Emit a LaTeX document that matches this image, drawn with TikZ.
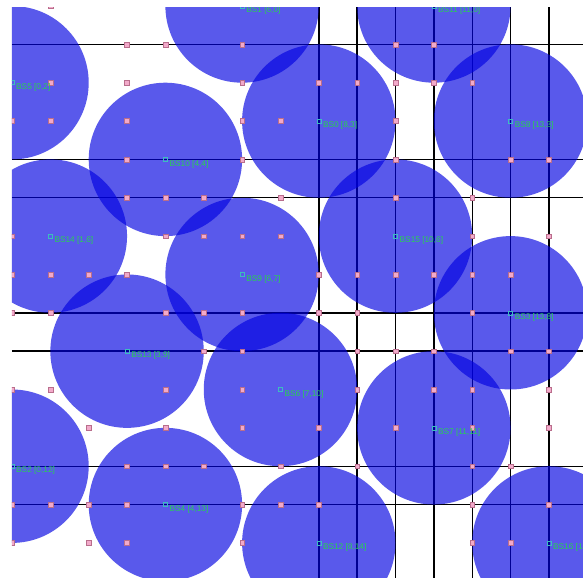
\documentclass[tikz,border=0pt]{standalone}
\usepackage{fontspec}
\setmainfont{Liberation Sans}
\definecolor{bsfill}{RGB}{0,0,225}
\definecolor{dotpink}{RGB}{242,170,202}
\definecolor{dotedge}{RGB}{185,110,140}
\definecolor{lblgreen}{RGB}{40,210,80}
\definecolor{mkteal}{RGB}{60,190,190}
\begin{document}
\begin{tikzpicture}[x=38.35pt,y=-38.35pt]
\tikzset{
  bs/.style={circle, fill=bsfill, fill opacity=0.65, draw=none, minimum size=153.4pt, inner sep=0pt},
  ptdot/.style={rectangle, fill=dotpink, draw=dotedge, line width=0.4pt, minimum size=4.8pt, inner sep=0pt},
  mk/.style={rectangle, draw=mkteal, line width=0.6pt, minimum size=4pt, inner sep=0pt},
  lbl/.style={text=lblgreen, font=\fontsize{8.3}{9}\selectfont, inner sep=0pt, anchor=west},
  road/.style={line width=1.4pt, draw=black}
}
\fill[white] (-0.3129,-0.1565) rectangle (14.889,14.915);
\useasboundingbox (-0.3129,-0.1565) rectangle (14.889,14.915);
\begin{scope}
  \clip (0,0.04) rectangle (14.889,14.915);
  % roads
  \foreach \r in {1,4,5,8,9,12,13} \draw[road] (0,\r) -- (15,\r);
  \foreach \c in {8,...,14} \draw[road] (\c,0) -- (\c,15);
  % base station coverage
  \foreach \n/\c/\r in {0/8/3,1/6/0,2/0/12,3/13/8,4/4/13,5/0/2,6/7/10,7/11/11,8/13/3,9/6/7,10/4/4,11/11/0,12/8/14,13/3/9,14/1/6,15/10/6,16/14/14}
    \node[bs] (bs\n) at (\c,\r) {};
  % test points
  \foreach \c/\r in {1/0,
    3/1,4/1,6/1,10/1,11/1,
    1/2,3/2,6/2,8/2,9/2,10/2,11/2,12/2,
    0/3,1/3,3/3,6/3,7/3,10/3,
    3/4,6/4,10/4,13/4,14/4,
    3/5,4/5,5/5,7/5,10/5,12/5,
    0/6,4/6,5/6,6/6,7/6,12/6,14/6,
    0/7,1/7,2/7,3/7,8/7,9/7,10/7,11/7,12/7,13/7,
    0/8,1/8,4/8,5/8,6/8,8/8,9/8,12/8,
    5/9,6/9,9/9,10/9,11/9,13/9,14/9,
    0/10,1/10,4/10,6/10,9/10,11/10,12/10,14/10,
    2/11,4/11,6/11,8/11,10/11,12/11,14/11,
    3/12,4/12,5/12,7/12,9/12,12/12,13/12,
    0/13,1/13,2/13,3/13,6/13,7/13,8/13,12/13,14/13,
    0/14,2/14,3/14,6/14,12/14,13/14}
    \node[ptdot] (d\c-\r) at (\c,\r) {};
  % labels
  \foreach \n/\c/\r in {0/8/3,1/6/0,2/0/12,3/13/8,4/4/13,5/0/2,6/7/10,7/11/11,8/13/3,9/6/7,10/4/4,11/11/0,12/8/14,13/3/9,14/1/6,15/10/6,16/14/14}{
    \node[mk] (m\n) at (\c,\r) {};
    \node[lbl, xshift=4pt, yshift=-4.5pt] (t\n) at (\c,\r) {BS\n{} [\c,\r]};
  }
\end{scope}
\end{tikzpicture}
\end{document}
